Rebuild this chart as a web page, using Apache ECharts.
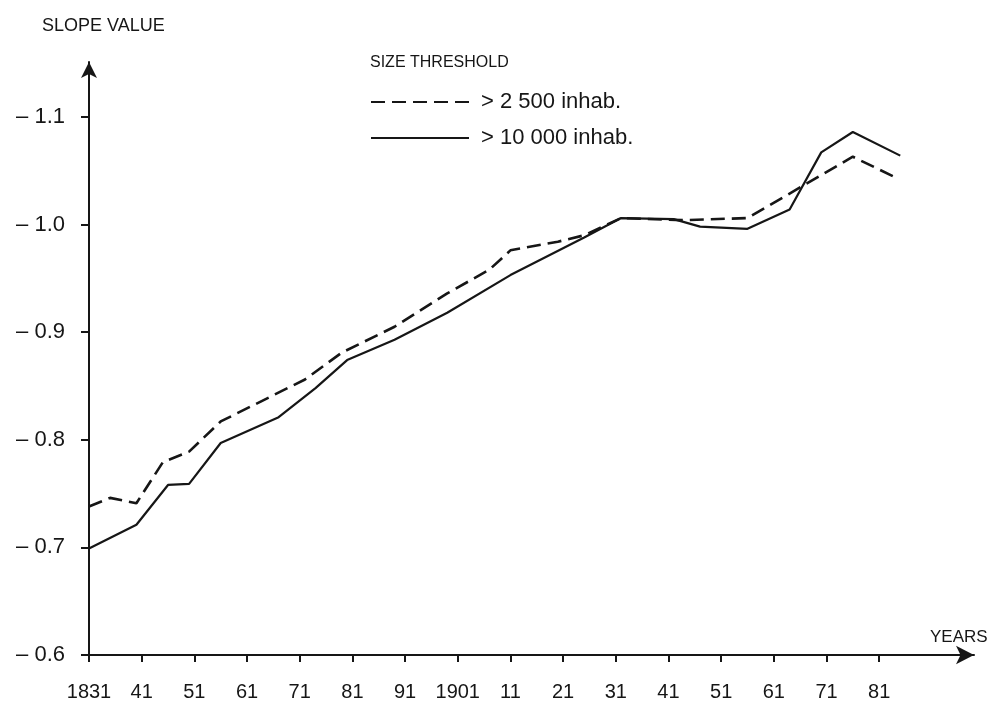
<!DOCTYPE html>
<html>
<head>
<meta charset="utf-8">
<script src="https://cdn.jsdelivr.net/npm/echarts@6/dist/echarts.min.js"></script>
<style>
  html, body { margin: 0; padding: 0; background: #ffffff; }
  #chart { width: 990px; height: 703px; }
</style>
</head>
<body>
<div id="chart"></div>
<script>
// ---- data ----
var yearsOver2500 = [1831, 1835, 1840, 1845, 1850, 1856, 1872, 1879, 1889, 1899, 1907, 1911, 1920, 1925, 1932, 1944, 1956, 1976, 1984];
var slopeOver2500 = [0.738, 0.746, 0.741, 0.779, 0.789, 0.817, 0.856, 0.881, 0.905, 0.936, 0.958, 0.976, 0.984, 0.990, 1.006, 1.004, 1.006, 1.063, 1.044];

var yearsOver10000 = [1831, 1840, 1846, 1850, 1856, 1867, 1874, 1880, 1889, 1899, 1911, 1925, 1932, 1942, 1947, 1956, 1964, 1970, 1976, 1985];
var slopeOver10000 = [0.699, 0.721, 0.758, 0.759, 0.797, 0.821, 0.848, 0.874, 0.893, 0.918, 0.953, 0.988, 1.006, 1.005, 0.998, 0.996, 1.014, 1.067, 1.086, 1.064];

var xTickYears = [1831, 1841, 1851, 1861, 1871, 1881, 1891, 1901, 1911, 1921, 1931, 1941, 1951, 1961, 1971, 1981];
var yTickValues = [0.6, 0.7, 0.8, 0.9, 1.0, 1.1];

var seriesNames = ['> 2 500 inhab.', '> 10 000 inhab.'];

function pairs(xs, ys) {
  var out = [];
  for (var i = 0; i < xs.length; i++) out.push([xs[i], ys[i]]);
  return out;
}

var ink = '#161616';
var font = 'Liberation Sans, Arial, sans-serif';

var chart = echarts.init(document.getElementById('chart'), null, { renderer: 'canvas' });
chart.setOption({
  backgroundColor: '#ffffff',
  animation: false,
  title: [
    { text: 'SLOPE VALUE', left: 37, top: 12, textStyle: { fontFamily: font, fontSize: 18, fontWeight: 'normal', color: ink } },
    { text: 'SIZE THRESHOLD', left: 365, top: 50, textStyle: { fontFamily: font, fontSize: 16, fontWeight: 'normal', color: ink } },
    { text: 'YEARS', left: 925, top: 624, textStyle: { fontFamily: font, fontSize: 17, fontWeight: 'normal', color: ink } }
  ],
  legend: {
    orient: 'vertical',
    left: 365,
    top: 86,
    itemWidth: 98,
    itemHeight: 22,
    itemGap: 14,
    selectedMode: false,
    itemStyle: { color: 'rgba(0,0,0,0)', borderWidth: 0, opacity: 0 },
    textStyle: { fontFamily: font, fontSize: 22, color: ink, padding: [0, 0, 0, 7] },
    data: seriesNames
  },
  grid: { left: 89, right: 16, top: 62, bottom: 48, containLabel: false },
  xAxis: {
    type: 'value',
    min: 1831,
    max: 1999,
    splitLine: { show: false },
    axisLine: { show: true, symbol: ['none', 'arrow'], symbolSize: [14, 18], lineStyle: { color: ink, width: 2 } },
    axisTick: { show: true, customValues: xTickYears, length: 7, inside: false, lineStyle: { color: ink, width: 2 } },
    axisLabel: {
      customValues: xTickYears,
      margin: 27,
      fontFamily: font,
      fontSize: 20,
      color: ink,
      formatter: function (v) {
        return (v === 1831 || v === 1901) ? String(v) : String(v).slice(2);
      }
    }
  },
  yAxis: {
    type: 'value',
    min: 0.6,
    max: 1.151,
    splitLine: { show: false },
    axisLine: { show: true, symbol: ['none', 'arrow'], symbolSize: [12, 16], lineStyle: { color: ink, width: 2 } },
    axisTick: { show: true, customValues: yTickValues, length: 8, lineStyle: { color: ink, width: 2 } },
    axisLabel: {
      customValues: yTickValues,
      margin: 24,
      fontFamily: font,
      fontSize: 22,
      color: ink,
      formatter: function (v) { return '\u2013 ' + v.toFixed(1); }
    }
  },
  series: [
    {
      name: seriesNames[0],
      type: 'line',
      data: pairs(yearsOver2500, slopeOver2500),
      symbol: 'none',
      lineStyle: { color: ink, width: 2.6, type: [14, 7] },
      itemStyle: { color: ink }
    },
    {
      name: seriesNames[1],
      type: 'line',
      data: pairs(yearsOver10000, slopeOver10000),
      symbol: 'none',
      lineStyle: { color: ink, width: 2.2, type: 'solid' },
      itemStyle: { color: ink }
    }
  ]
});
</script>
</body>
</html>
